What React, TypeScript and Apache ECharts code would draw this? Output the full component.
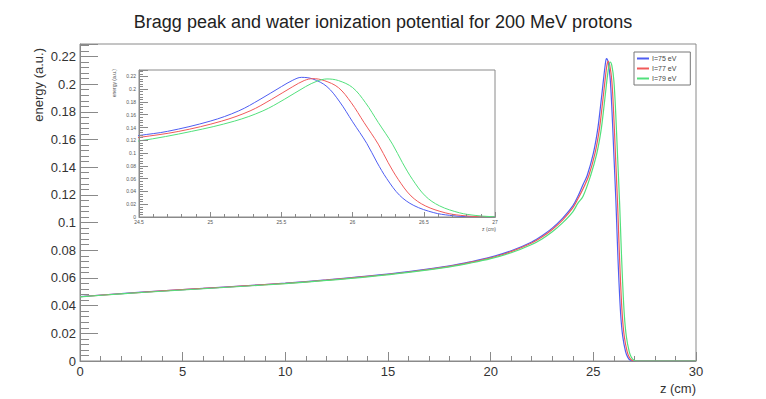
import React, { useEffect, useRef } from "react";
import * as echarts from "echarts";

const FONT = "'Liberation Sans', Arial, Helvetica, sans-serif";

const TITLE = "Bragg peak and water ionization potential for 200 MeV protons";
const SERIES_NAMES = ["I=75 eV", "I=77 eV", "I=79 eV"];
const SERIES_COLORS = ["#4f5ef2", "#f05a5a", "#52e07c"];

// depth (cm) and energy deposit (a.u.) for each ionization potential
const z75 = [0, 2, 4, 6, 8, 10, 12, 14, 16, 18, 19, 20, 21, 22, 22.5, 23, 23.5, 24, 24.25, 24.5, 24.7, 25.0, 25.2, 25.35, 25.5, 25.58, 25.64, 25.72, 25.82, 25.91, 26.0, 26.1, 26.17, 26.24, 26.33, 26.43, 26.57, 26.68, 26.8, 27, 28, 30];
const e75 = [0.0465, 0.0487, 0.0507, 0.0525, 0.0543, 0.0563, 0.0586, 0.0613, 0.0646, 0.0688, 0.0716, 0.075, 0.0796, 0.086, 0.0905, 0.096, 0.103, 0.112, 0.119, 0.1275, 0.134, 0.15, 0.166, 0.184, 0.204, 0.214, 0.2185, 0.216, 0.204, 0.18, 0.149, 0.115, 0.086, 0.06, 0.034, 0.018, 0.0068, 0.0026, 0.0005, 0, 0, 0];

const z77 = [0, 2, 4, 6, 8, 10, 12, 14, 16, 18, 19, 20, 21, 22, 22.5, 23, 23.5, 24, 24.25, 24.5, 24.78, 25.08, 25.28, 25.43, 25.58, 25.66, 25.72, 25.8, 25.9, 25.99, 26.08, 26.18, 26.25, 26.32, 26.41, 26.51, 26.65, 26.76, 26.88, 27, 28, 30];
const e77 = [0.0464, 0.0486, 0.0506, 0.0524, 0.0542, 0.0561, 0.0584, 0.0611, 0.0643, 0.0684, 0.0712, 0.0745, 0.079, 0.0852, 0.0895, 0.095, 0.1018, 0.1106, 0.1172, 0.1245, 0.134, 0.15, 0.166, 0.184, 0.204, 0.2135, 0.2165, 0.2135, 0.2025, 0.179, 0.148, 0.114, 0.085, 0.059, 0.033, 0.0175, 0.0066, 0.0025, 0.0005, 0, 0, 0];

const z79 = [0, 2, 4, 6, 8, 10, 12, 14, 16, 18, 19, 20, 21, 22, 22.5, 23, 23.5, 24, 24.25, 24.5, 24.87, 25.17, 25.37, 25.52, 25.67, 25.75, 25.82, 25.9, 26.0, 26.09, 26.18, 26.28, 26.35, 26.42, 26.51, 26.61, 26.75, 26.86, 26.98, 27.1, 28, 30];
const e79 = [0.0463, 0.0485, 0.0504, 0.0522, 0.054, 0.0559, 0.0582, 0.0608, 0.064, 0.068, 0.0707, 0.0739, 0.0782, 0.0842, 0.0882, 0.0934, 0.0998, 0.1078, 0.114, 0.119, 0.134, 0.15, 0.166, 0.184, 0.204, 0.2125, 0.216, 0.2135, 0.2025, 0.179, 0.148, 0.114, 0.085, 0.059, 0.033, 0.0175, 0.0066, 0.0025, 0.0005, 0, 0, 0];

const Z_LISTS = [z75, z77, z79];
const E_LISTS = [e75, e77, e79];

// axis ranges / ticks
const MAIN_X = { min: 0, max: 30, interval: 5 };
const MAIN_Y = { min: 0, max: 0.229, interval: 0.02 };
const INSET_X = { min: 24.5, max: 27, interval: 0.5 };
const INSET_Y = { min: 0, max: 0.23, interval: 0.02 };

const fmt = (v: number) => String(+v.toFixed(3));

export default function App() {
  const ref = useRef<HTMLDivElement>(null);
  useEffect(() => {
    if (!ref.current) return;
    const chart = echarts.init(ref.current, undefined, { renderer: "svg" });
    const pairs = Z_LISTS.map((zs, i) => zs.map((z, j) => [z, E_LISTS[i][j]]));
    const axisColor = "#8a8a8a";

    const mkSeries = (idx: number, inset: boolean) =>
      SERIES_NAMES.map((name, i) => ({
        type: "line",
        name,
        xAxisIndex: idx,
        yAxisIndex: idx,
        data: pairs[i],
        showSymbol: false,
        smooth: 0.35,
        clip: true,
        lineStyle: { color: SERIES_COLORS[i], width: inset ? 1 : 1.2 },
        itemStyle: { color: SERIES_COLORS[i] },
        z: inset ? 5 : 2,
      }));

    chart.setOption({
      animation: false,
      backgroundColor: "#ffffff",
      textStyle: { fontFamily: FONT },
      title: {
        text: TITLE,
        left: "center",
        top: 8,
        textStyle: { fontFamily: FONT, fontSize: 18, fontWeight: "normal", color: "#222" },
      },
      legend: {
        data: SERIES_NAMES,
        orient: "vertical",
        left: 634,
        top: 52,
        backgroundColor: "#fff",
        borderColor: "#777",
        borderWidth: 1,
        borderRadius: 0,
        padding: [3, 14, 3, 3],
        itemGap: 3,
        itemWidth: 12,
        itemHeight: 2,
        icon: "rect",
        textStyle: { fontSize: 7, color: "#444", fontFamily: FONT, padding: [0, 0, 0, -2] },
        z: 10,
      },
      grid: [
        { left: 80, right: 70, top: 44, bottom: 38, show: true, borderColor: axisColor, borderWidth: 1, backgroundColor: "#fff" },
        { left: 139, right: 271, top: 70, bottom: 182, show: true, borderColor: axisColor, borderWidth: 1, backgroundColor: "#fff", z: 4 },
      ],
      xAxis: [
        {
          type: "value", gridIndex: 0, ...MAIN_X,
          axisLine: { lineStyle: { color: axisColor } },
          axisTick: { inside: true, length: 9, lineStyle: { color: axisColor } },
          minorTick: { show: true, splitNumber: 5, length: 5, lineStyle: { color: axisColor } },
          splitLine: { show: false },
          axisLabel: { fontSize: 13, color: "#333", margin: 4, fontFamily: FONT, formatter: fmt },
        },
        {
          type: "value", gridIndex: 1, ...INSET_X, z: 6,
          axisLine: { lineStyle: { color: axisColor } },
          axisTick: { inside: true, length: 5, lineStyle: { color: axisColor } },
          minorTick: { show: true, splitNumber: 5, length: 3, lineStyle: { color: axisColor } },
          splitLine: { show: false },
          axisLabel: { fontSize: 5, color: "#555", margin: 2, fontFamily: FONT, formatter: fmt },
        },
      ],
      yAxis: [
        {
          type: "value", gridIndex: 0, ...MAIN_Y,
          axisLine: { show: true, lineStyle: { color: axisColor } },
          axisTick: { inside: true, length: 18, lineStyle: { color: axisColor } },
          minorTick: { show: true, splitNumber: 5, length: 9, lineStyle: { color: axisColor } },
          splitLine: { show: false },
          axisLabel: { fontSize: 13, color: "#333", margin: 4, fontFamily: FONT, showMaxLabel: false, formatter: fmt },
        },
        {
          type: "value", gridIndex: 1, ...INSET_Y, z: 6,
          axisLine: { show: true, lineStyle: { color: axisColor } },
          axisTick: { inside: true, length: 9, lineStyle: { color: axisColor } },
          minorTick: { show: true, splitNumber: 5, length: 4, lineStyle: { color: axisColor } },
          splitLine: { show: false },
          axisLabel: { fontSize: 5, color: "#555", margin: 3, fontFamily: FONT, showMaxLabel: false, formatter: fmt },
        },
      ],
      graphic: [
        {
          type: "text", x: 38, y: 48, rotation: Math.PI / 2,
          style: { text: "energy (a.u.)", fontSize: 13, fontFamily: FONT, fill: "#333", align: "right", verticalAlign: "middle" },
        },
        {
          type: "text", x: 696, y: 388,
          style: { text: "z (cm)", fontSize: 13, fontFamily: FONT, fill: "#333", align: "right", verticalAlign: "middle" },
        },
        {
          type: "text", x: 114, y: 69, rotation: Math.PI / 2, z: 20,
          style: { text: "energy (a.u.)", fontSize: 5, fontFamily: FONT, fill: "#555", align: "right", verticalAlign: "middle" },
        },
        {
          type: "text", x: 496, y: 229, z: 20,
          style: { text: "z (cm)", fontSize: 5, fontFamily: FONT, fill: "#555", align: "right", verticalAlign: "middle" },
        },
      ],
      series: [...mkSeries(0, false), ...mkSeries(1, true)],
    });
    return () => chart.dispose();
  }, []);

  return (
    <div
      ref={ref}
      style={{ position: "absolute", left: 0, top: 0, width: 766, height: 399, background: "#fff" }}
    />
  );
}
